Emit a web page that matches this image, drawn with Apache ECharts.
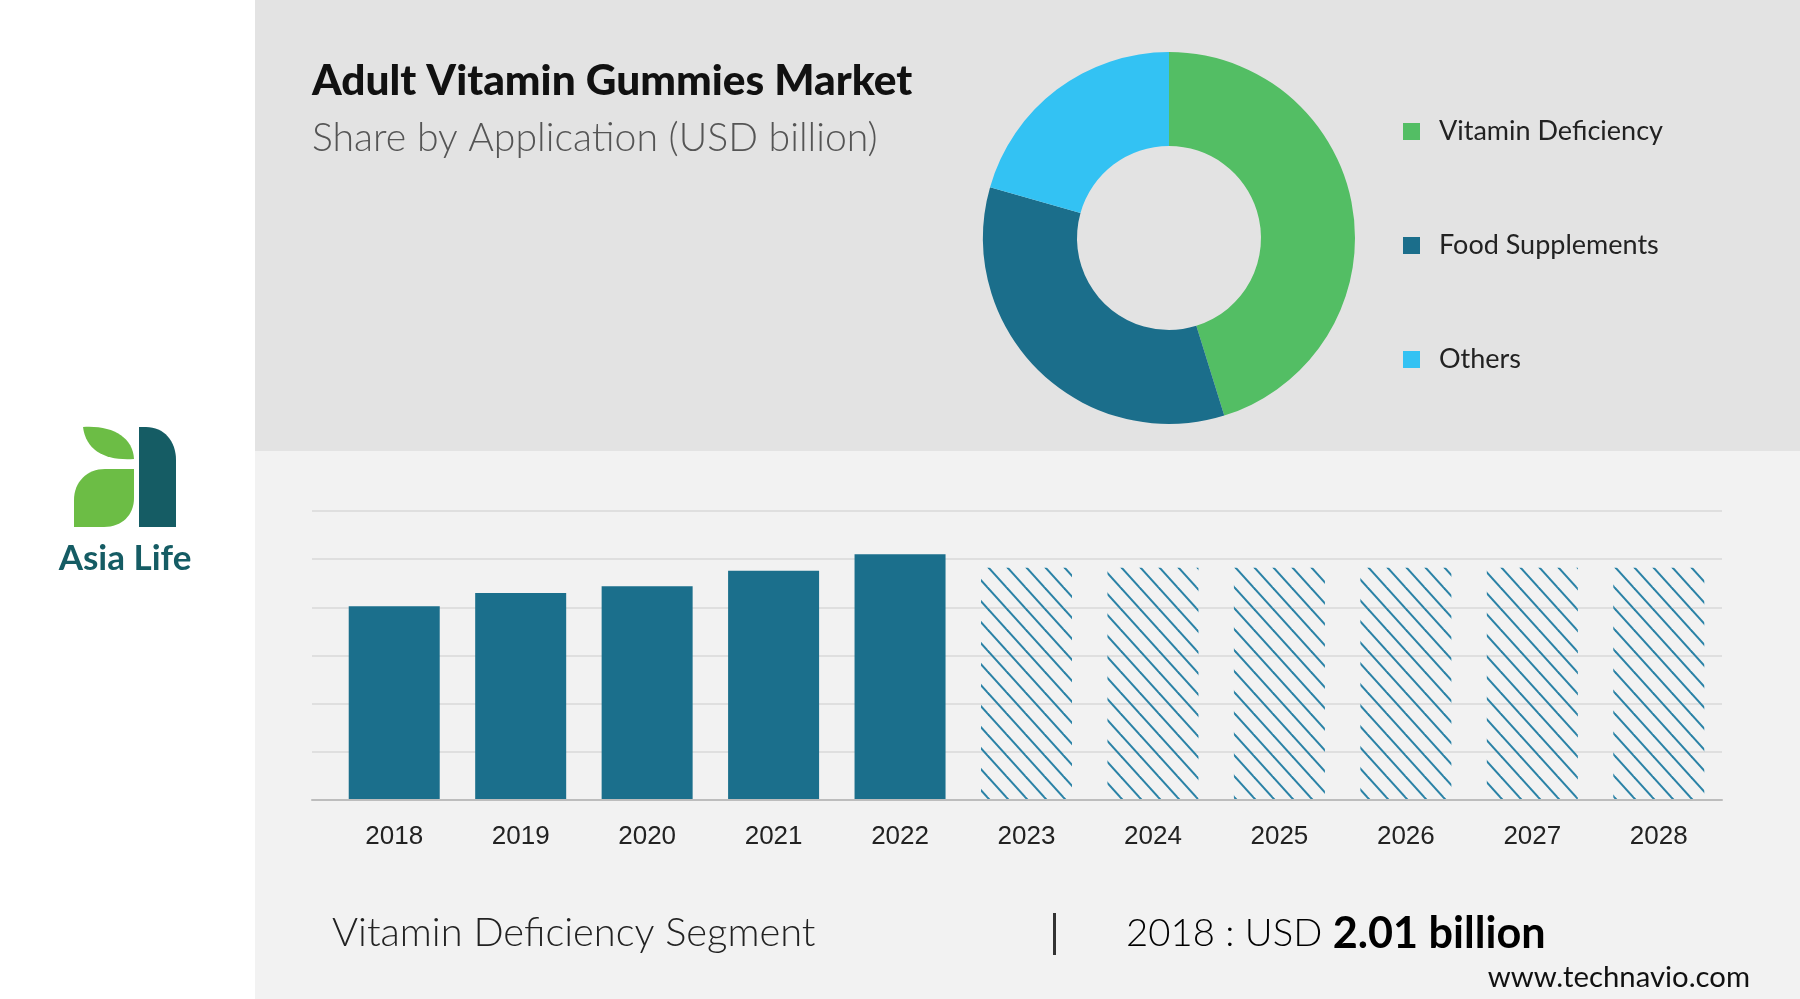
<!DOCTYPE html>
<html>
<head>
<meta charset="utf-8">
<script src="https://cdn.jsdelivr.net/npm/echarts@6/dist/echarts.min.js"></script>
<style>
html,body{margin:0;padding:0;background:#ffffff;}
#chart{width:1800px;height:999px;}
</style>
</head>
<body>
<div id="chart"></div>
<script>
// ---- data ----
const segments = ['Vitamin Deficiency', 'Food Supplements', 'Others'];
const segmentShares = [45.2, 34.2, 20.6];
const years = ['2018', '2019', '2020', '2021', '2022', '2023', '2024', '2025', '2026', '2027', '2028'];
const historicalValues = [2.01, 2.15, 2.22, 2.38, 2.55];
const forecastValues = [2.41, 2.41, 2.41, 2.41, 2.41, 2.41];
const yTicks = [0, 0.5, 1, 1.5, 2, 2.5, 3];

// ---- styles ----
const pieColors = ['#53be64', '#1b6e8b', '#33c2f3'];
const barColor = '#1b6f8c';

// hatch pattern for forecast bars
function makeHatch() {
  const w = 19, h = 21;
  const c = document.createElement('canvas');
  c.width = w; c.height = h;
  const ctx = c.getContext('2d');
  ctx.strokeStyle = '#2a82a6';
  ctx.lineWidth = 2;
  for (let k = -1; k <= 1; k++) {
    ctx.beginPath();
    ctx.moveTo(k * w - w, -h);
    ctx.lineTo(k * w + 2 * w, 2 * h);
    ctx.stroke();
  }
  return c;
}
const hatch = makeHatch();

const logoSvg = '<svg xmlns="http://www.w3.org/2000/svg" width="130" height="115" viewBox="60 420 130 115">' +
  '<path d="M83 427 C112 425 133 437 134 459 C106 461 86 451 83 427 Z" fill="#6cbd45"/>' +
  '<path d="M134 469 L134 498 C134 515 122 527 104 527 L74 527 L74 500 C74 482 87 469 105 469 Z" fill="#6cbd45"/>' +
  '<path d="M139 527 L139 427 L146 427 C164 427 176 441 176 460 L176 527 Z" fill="#155c64"/>' +
  '</svg>';
const logoUrl = 'data:image/svg+xml;charset=utf-8,' + encodeURIComponent(logoSvg);

const barData = years.map(function (y, i) {
  if (i < historicalValues.length) {
    return { value: historicalValues[i], itemStyle: { color: barColor } };
  }
  return { value: forecastValues[i - historicalValues.length], itemStyle: { color: { image: hatch, repeat: 'repeat' } } };
});

const chart = echarts.init(document.getElementById('chart'), null, { renderer: 'canvas' });

const option = {
  animation: false,
  backgroundColor: '#ffffff',
  graphic: [
    { type: 'rect', z: -10, shape: { x: 255, y: 0, width: 1545, height: 451 }, style: { fill: '#e3e3e3' }, silent: true },
    { type: 'rect', z: -10, shape: { x: 255, y: 451, width: 1545, height: 548 }, style: { fill: '#f2f2f2' }, silent: true },
    // logo
    { type: 'image', z: 5, style: { image: logoUrl, x: 60, y: 420, width: 130, height: 115 } },
    { type: 'text', z: 5, style: { text: 'Asia Life', x: 125, y: 559, align: 'center', verticalAlign: 'middle', fill: '#155c64', font: 'bold 35px Lato' } },
    // titles
    { type: 'text', z: 5, style: { text: 'Adult Vitamin Gummies Market', x: 312, y: 81, align: 'left', verticalAlign: 'middle', fill: '#111111', font: '900 42.4px Lato' } },
    { type: 'text', z: 5, style: { text: 'Share by Application (USD billion)', x: 312, y: 138, align: 'left', verticalAlign: 'middle', fill: '#555555', font: '300 39.2px Lato' } },
    // footer
    { type: 'text', z: 5, style: { text: 'Vitamin Deficiency Segment', x: 332, y: 933, align: 'left', verticalAlign: 'middle', fill: '#222222', font: '300 39.8px Lato' } },
    { type: 'rect', z: 5, shape: { x: 1053, y: 913, width: 3, height: 42 }, style: { fill: '#333333' } },
    { type: 'text', z: 5, style: {
        text: '{a|2018 : USD }{b|2.01 billion}', x: 1126, y: 934, align: 'left', verticalAlign: 'middle',
        rich: {
          a: { fontFamily: 'Lato', fontSize: 38.3, fontWeight: 300, color: '#555555' },
          b: { fontFamily: 'Lato', fontSize: 43.2, fontWeight: 'bold', color: '#222222' }
        }
      } },
    { type: 'text', z: 5, style: { text: 'www.technavio.com', x: 1750, y: 978, align: 'right', verticalAlign: 'middle', fill: '#111111', font: '29.3px Lato' } }
  ],
  legend: {
    orient: 'vertical',
    left: 1403,
    top: 118,
    padding: 0,
    itemWidth: 17,
    itemHeight: 17,
    itemGap: 87,
    icon: 'rect',
    selectedMode: false,
    data: segments,
    textStyle: { fontFamily: 'Lato', fontSize: 27, color: '#222222', lineHeight: 27, padding: [0, 0, 0, 14] }
  },
  grid: [
    { left: 312, right: 78, top: 511, bottom: 199 },
    { left: 331, right: 78, top: 511, bottom: 199 }
  ],
  xAxis: [
    { type: 'value', gridIndex: 0, min: 0, max: 1, axisLabel: { show: false }, axisTick: { show: false }, splitLine: { show: false },
      axisLine: { show: true, lineStyle: { color: '#bdbdbd', width: 2 } }, z: 3 },
    { type: 'category', gridIndex: 1, data: years, axisLine: { show: false }, axisTick: { show: false },
      axisLabel: { fontFamily: 'Liberation Sans, Arial', fontSize: 26, color: '#222222', margin: 24 } }
  ],
  yAxis: [
    { type: 'value', gridIndex: 0, min: yTicks[0], max: yTicks[yTicks.length - 1], interval: 0.5, axisLabel: { show: false },
      axisLine: { show: false }, axisTick: { show: false }, splitLine: { lineStyle: { color: '#d8d8d8', width: 1.5 } } },
    { type: 'value', gridIndex: 1, min: yTicks[0], max: yTicks[yTicks.length - 1], interval: 0.5, show: false, splitLine: { show: false } }
  ],
  series: [
    {
      type: 'pie',
      center: [1169, 238],
      radius: [92, 186],
      startAngle: 90,
      clockwise: true,
      label: { show: false },
      labelLine: { show: false },
      emphasis: { disabled: true },
      itemStyle: { borderWidth: 0 },
      data: segments.map(function (n, i) { return { name: n, value: segmentShares[i], itemStyle: { color: pieColors[i] } }; })
    },
    {
      type: 'bar',
      xAxisIndex: 1,
      yAxisIndex: 1,
      barWidth: 91,
      data: barData,
      emphasis: { disabled: true },
      z: 2
    }
  ]
};
chart.setOption(option);
</script>
</body>
</html>
